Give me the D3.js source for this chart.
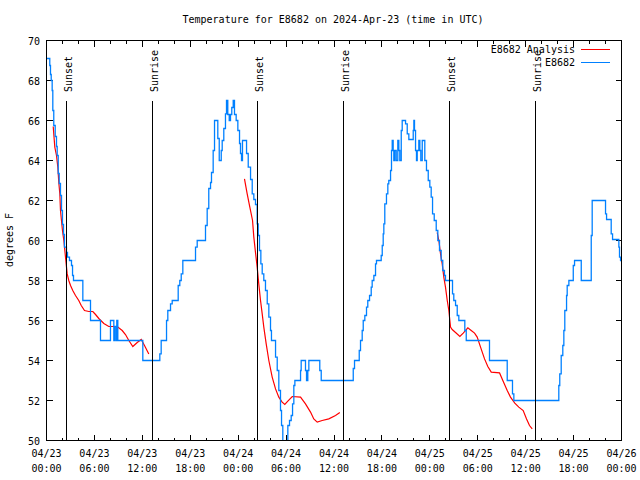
<!DOCTYPE html>
<html><head><meta charset="utf-8">
<script src="https://cdn.jsdelivr.net/npm/d3@7"></script>
<style>
html,body{margin:0;padding:0;background:#fff;}
text{font-family:"DejaVu Sans Mono","Liberation Mono",monospace;font-size:10px;fill:#000;}
</style></head>
<body><svg id="c" width="640" height="480"></svg>
<script>
// ---- data (hours since 2024-04-23 00:00 UTC) ----
const obsHours = [0,0.41,0.5,0.59,0.71,0.79,0.91,1.09,1.25,1.34,1.47,1.59,1.75,1.88,2.0,2.13,2.25,2.5,2.63,2.88,3.13,3.26,3.38,4.55,5.51,6.76,8.01,8.43,8.51,8.68,8.8,8.93,12.06,14.19,14.36,15.03,15.19,15.53,15.74,16.49,16.69,16.87,17.07,18.66,18.87,19.91,20.12,20.32,20.54,20.66,20.87,21.04,21.45,21.63,21.88,22.0,22.2,22.41,22.54,22.7,22.88,23.04,23.2,23.38,23.54,23.75,23.96,24.17,24.29,24.42,24.54,25.05,25.26,25.55,25.76,25.96,26.17,26.38,26.51,26.67,26.84,27.01,27.21,27.42,27.64,27.84,28.05,28.17,28.68,28.89,29.09,29.3,29.43,29.59,30.22,30.43,30.64,30.81,30.97,31.1,31.81,31.89,32.43,32.56,32.72,32.85,34.22,34.4,38.41,38.57,39.16,39.32,39.53,39.66,39.86,40.07,40.23,40.45,40.66,40.78,40.99,41.2,41.32,41.91,42.04,42.16,42.24,42.36,42.57,42.74,42.86,43.08,43.2,43.29,43.41,43.49,43.61,43.79,43.99,44.12,44.24,44.42,44.54,44.96,45.17,45.37,45.92,46.0,46.08,46.21,46.33,46.42,46.62,46.75,46.87,47.05,47.37,47.58,47.8,48.0,48.17,48.34,48.55,48.8,49.0,49.21,49.42,49.62,49.83,49.96,50.84,51.0,51.22,51.43,51.63,52.38,52.56,55.47,57.69,58.35,58.52,64.15,64.27,64.45,64.65,64.78,64.9,65.12,65.2,65.41,65.96,66.12,66.96,68.21,68.33,70.0,70.13,70.71,70.88,71.67,71.75,71.88,72];
const obsTemps = [69.1,68.75,68.3,68.0,67.5,66.5,65.75,65.2,64.7,64.25,63.35,62.85,62.25,61.5,60.8,60.3,59.67,59.4,59.17,59.0,58.75,58.25,58.0,57,56,55,56,55,55.7,55,56,55,54,54.33,55,56,56.5,56.83,57,57.75,58,58.33,59,59.67,60,60.75,61.6,62.6,62.9,63.4,64.5,66,65.1,64,64.5,65,65.6,66.33,67,66.3,66,66.3,66.65,67,66.3,66,65.5,64.85,64.35,64,65,64.35,63.67,63.05,62.33,62.05,61.8,60.83,60.25,59.5,58.83,58.33,58,57.5,56.83,56.17,55.5,55,54.17,53.5,52.5,51.5,50.75,49.7,50.75,51,51.25,51.83,52.75,53,53.5,54,53.5,53,53.5,54,53.5,53,53.6,54,54.5,55,55.5,56,56.25,56.67,57,57.25,57.67,58,58.25,58.83,59,59.25,59.75,60.33,60.83,61.83,62.33,62.83,63,63.5,64.5,65,64.5,64,64.5,64,65,64.5,64,65.5,66,65.83,65.33,65.05,65.5,66,65.5,64.5,64,64.5,65,64.5,64,65,64,63.5,63,62.67,62.17,61.33,61,60.5,60,59.5,59,58.5,58.25,58,57.33,57,56.75,56.25,56,55.5,55,54,53,52.33,52,52.75,53.33,54.25,54.75,55.5,56.5,57.25,57.75,58,58.75,59,58,60.25,62,61.33,61.05,60.33,60.05,59.67,59.17,59,59];

const ana1Hours = [0.84,1.04,1.25,1.42,1.54,1.67,1.75,2.0,2.17,2.38,2.59,2.79,3.01,3.29,3.63,4.04,4.35,4.76,5.3,5.8,6.14,6.55,7.18,7.8,8.85,9.48,9.89,10.31,10.81,11.36,11.86,12.27,12.81];
const ana1Temps = [65.7,64.67,64.25,63.67,62.9,62.33,61.5,60.5,60,59.17,58.33,58,57.75,57.5,57.25,57,56.75,56.5,56.45,56.45,56.3,56.1,55.85,55.7,55.7,55.5,55.3,55,54.7,54.9,55.05,54.75,54.33];
const ana2Hours = [24.79,25.13,25.46,25.8,25.96,26.17,26.38,26.58,26.8,27.01,27.21,27.51,27.84,28.26,28.68,29.09,29.51,29.84,30.22,30.77,31.81,32.43,33.06,33.47,33.9,34.52,35.35,36.19,36.73];
const ana2Temps = [63.08,62.33,61.67,61,60.17,59.4,58.67,57.83,57,56.33,55.67,54.83,54,53.17,52.58,52.17,51.92,51.8,51.97,52.2,52.17,51.83,51.42,51.08,50.92,51,51.08,51.25,51.4];
const ana3Hours = [48.92,49.13,49.34,49.55,49.75,49.96,50.18,50.38,50.59,50.8,51.22,51.76,52.18,52.76,53.18,53.6,53.93,54.35,54.85,55.26,55.69,56.73,57.14,57.69,58.1,58.64,59.14,59.69,60.11,60.48,60.82];
const ana3Temps = [60.4,60,59.33,58.83,58.17,57.67,57,56.5,55.67,55.55,55.4,55.2,55.37,55.63,55.5,55.37,55.17,54.67,54.08,53.7,53.42,53.38,53,52.5,52.17,51.87,51.67,51.5,51.08,50.75,50.58];

const sunHours = [2.5,13.31,26.46,37.23,50.46,61.26];
const sunLabels = ["Sunset","Sunrise","Sunset","Sunrise","Sunset","Sunrise"];
const sunLineTop = 67;

const yTicks = [50,52,54,56,58,60,62,64,66,68,70];
const seriesNames = ["E8682 Analysis","E8682"];
const seriesColors = ["#ff0000","#0080ff"];
const title = "Temperature for E8682 on 2024-Apr-23 (time in UTC)";
const yLabel = "degrees F";

// ---- chart ----
const t0 = Date.UTC(2024,3,23,0,0);
const toDate = h => new Date(t0 + h*3600e3);
const svg = d3.select("#c");
const L=46.5, R=621.5, T=40.5, B=440.5;
const x = d3.scaleUtc().domain([toDate(0), toDate(72)]).range([L,R]);
const y = d3.scaleLinear().domain([50,70]).range([B,T]);

svg.append("defs").append("clipPath").attr("id","clip")
  .append("rect").attr("x",L).attr("y",T).attr("width",R-L).attr("height",B-T);

// title
svg.append("text").attr("x",333).attr("y",23).attr("text-anchor","middle").text(title);
// y label
svg.append("text").attr("transform","translate(13,240) rotate(-90)").attr("text-anchor","middle").text(yLabel);

// axes ticks
const g = svg.append("g").attr("shape-rendering","crispEdges").attr("stroke","#000").attr("stroke-width",1);
const majors = d3.utcHour.every(6).range(toDate(0), toDate(72.01));
const minors = d3.utcHour.every(2).range(toDate(0), toDate(72.01)).filter(d => d.getUTCHours()%6 !== 0);
majors.forEach(d => {
  const px = Math.round(x(d)-0.5)+0.5;
  g.append("line").attr("x1",px).attr("x2",px).attr("y1",B).attr("y2",B-6);
  g.append("line").attr("x1",px).attr("x2",px).attr("y1",T).attr("y2",T+6);
});
minors.forEach(d => {
  const px = Math.round(x(d)-0.5)+0.5;
  g.append("line").attr("x1",px).attr("x2",px).attr("y1",B).attr("y2",B-3);
  g.append("line").attr("x1",px).attr("x2",px).attr("y1",T).attr("y2",T+3);
});
yTicks.forEach(v => {
  const py = y(v);
  g.append("line").attr("x1",L).attr("x2",L+6).attr("y1",py).attr("y2",py);
  g.append("line").attr("x1",R).attr("x2",R-6).attr("y1",py).attr("y2",py);
});
const fmtD = d3.utcFormat("%m/%d"), fmtT = d3.utcFormat("%H:%M");
majors.forEach(d => {
  const tx = svg.append("text").attr("x",x(d)).attr("text-anchor","middle");
  tx.append("tspan").attr("x",x(d)).attr("y",457).text(fmtD(d));
  tx.append("tspan").attr("x",x(d)).attr("y",472).text(fmtT(d));
});
yTicks.forEach(v => {
  svg.append("text").attr("x",40).attr("y",y(v)+4).attr("text-anchor","end").text(v);
});

// data
const plot = svg.append("g").attr("clip-path","url(#clip)");
const lineA = d3.line().x(d=>x(toDate(d[0]))).y(d=>y(d[1]));
[[ana1Hours,ana1Temps],[ana2Hours,ana2Temps],[ana3Hours,ana3Temps]].forEach(([hs,ts]) => {
  plot.append("path").datum(hs.map((h,i)=>[h,ts[i]]))
    .attr("d",lineA).attr("fill","none").attr("stroke",seriesColors[0]).attr("stroke-width",1.2);
});
const lineO = d3.line().curve(d3.curveStepAfter).x(d=>x(toDate(d[0]))).y(d=>y(d[1]));
plot.append("path").datum(obsHours.map((h,i)=>[h,obsTemps[i]]))
  .attr("d",lineO).attr("fill","none").attr("stroke",seriesColors[1]).attr("stroke-width",1.3);

// sun lines
sunHours.forEach((h,i) => {
  const px = Math.round(x(toDate(h))-0.5)+0.5;
  svg.append("line").attr("x1",px).attr("x2",px).attr("y1",y(sunLineTop)).attr("y2",B)
    .attr("stroke","#000").attr("stroke-width",1).attr("shape-rendering","crispEdges");
  svg.append("text").attr("transform",`translate(${px+5},92) rotate(-90)`).attr("text-anchor","start").text(sunLabels[i]);
});

// frame
svg.append("rect").attr("x",L).attr("y",T).attr("width",R-L).attr("height",B-T)
  .attr("fill","none").attr("stroke","#000").attr("shape-rendering","crispEdges");

// legend
seriesNames.forEach((n,i) => {
  const ly = 53 + i*13;
  svg.append("text").attr("x",575).attr("y",ly).attr("text-anchor","end").text(n);
  svg.append("line").attr("x1",581).attr("x2",610).attr("y1",ly-3.5).attr("y2",ly-3.5)
    .attr("stroke",seriesColors[i]).attr("stroke-width",1).attr("shape-rendering","crispEdges");
});
</script></body></html>
